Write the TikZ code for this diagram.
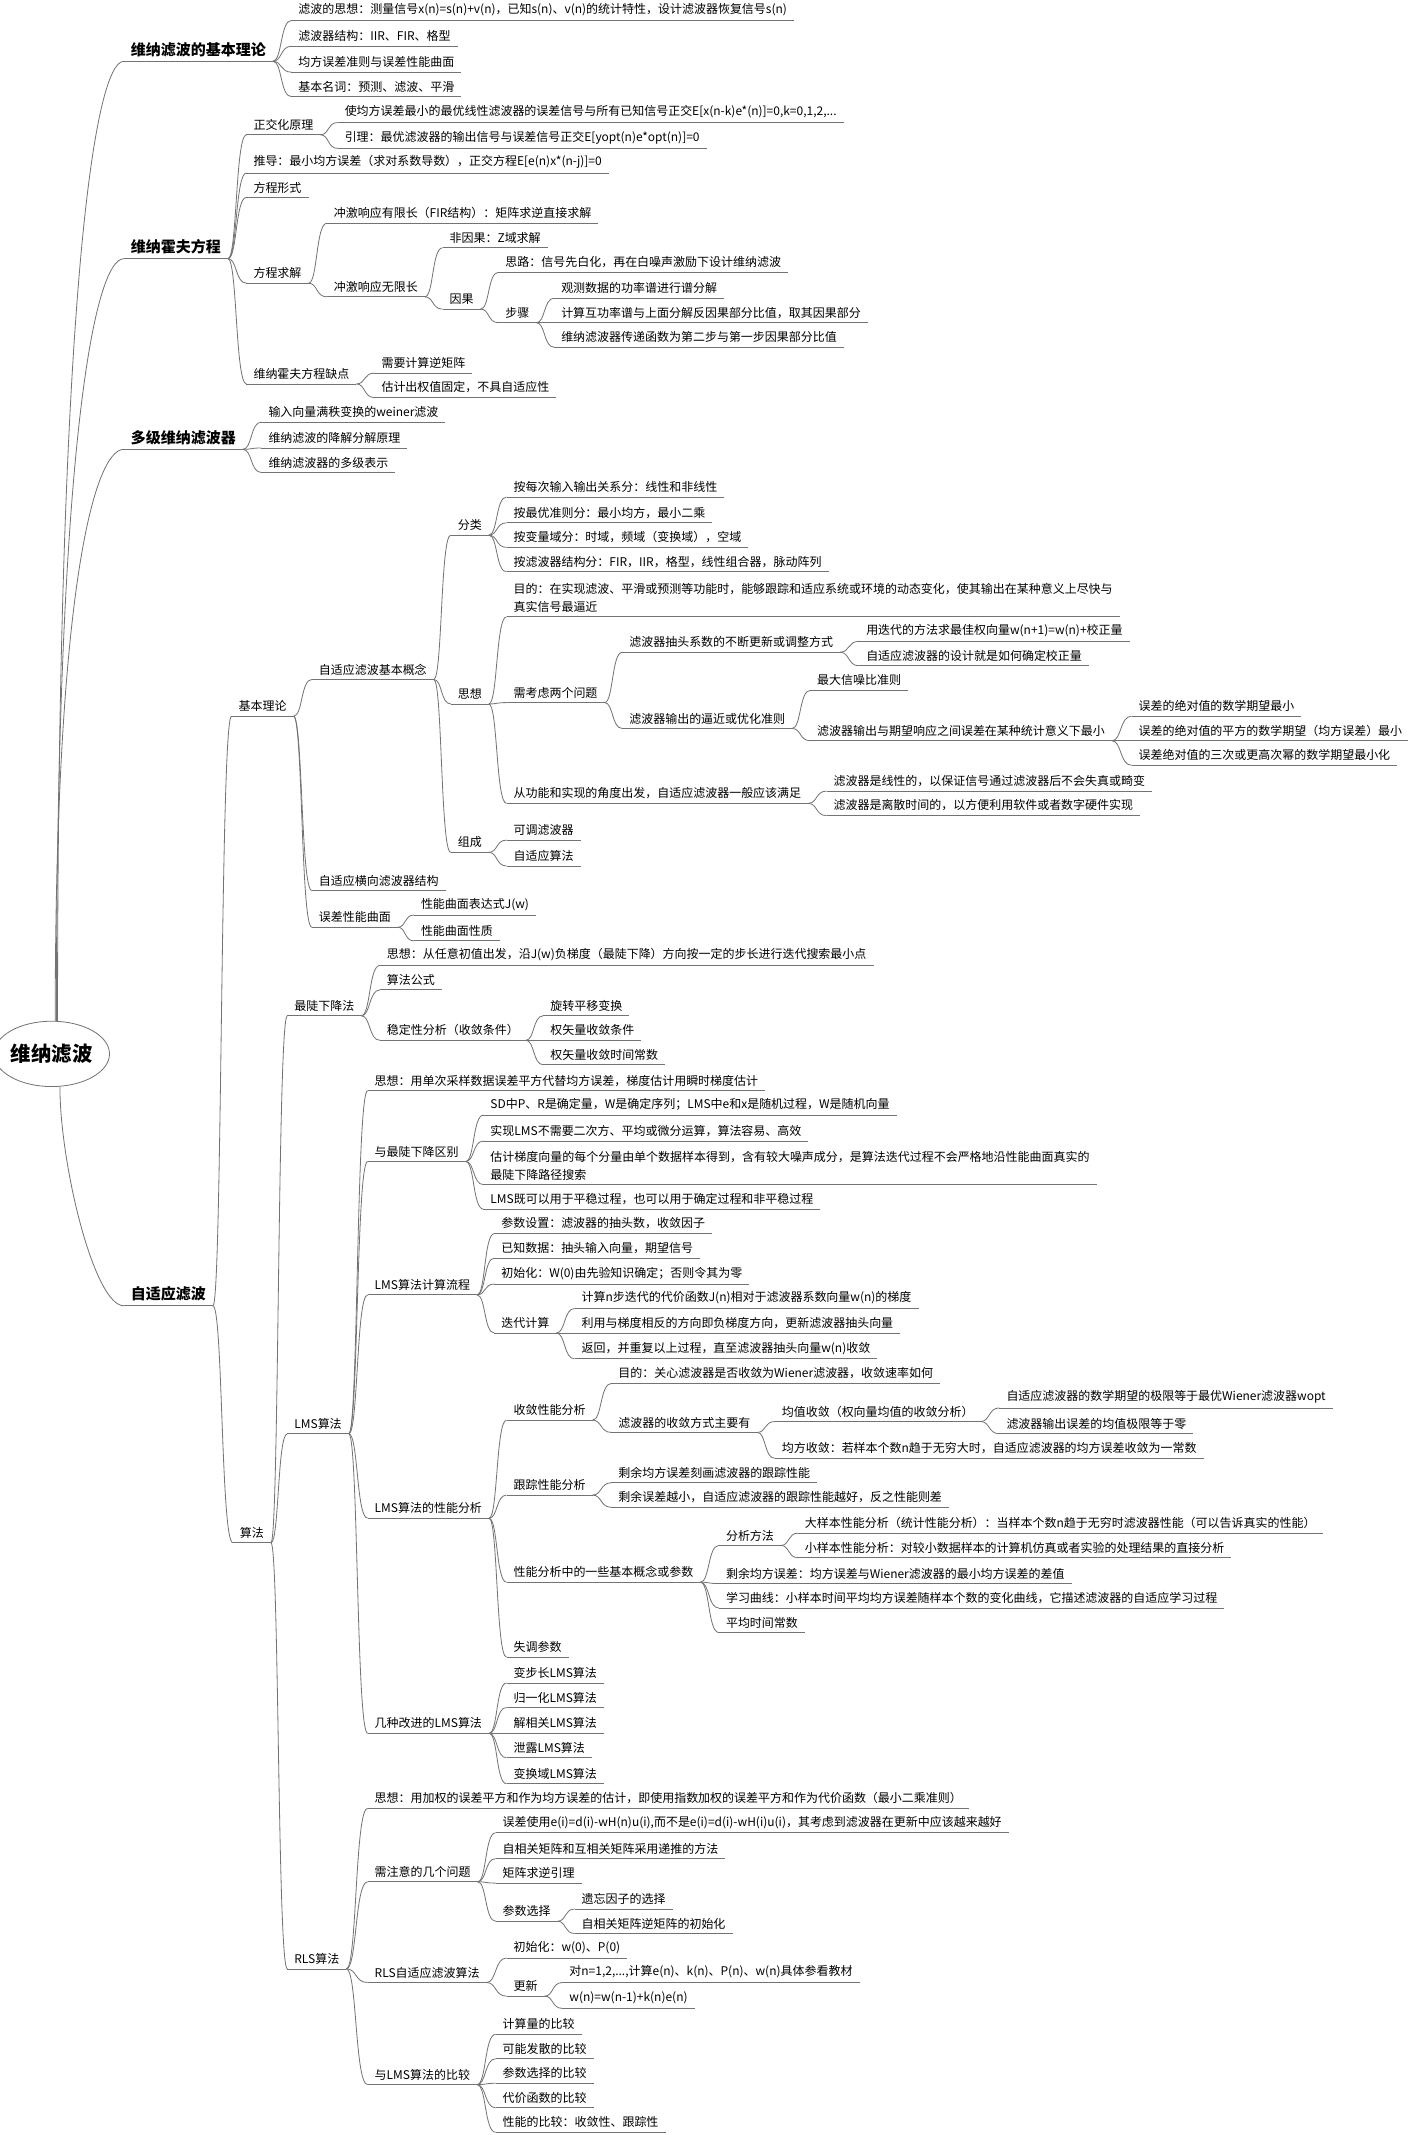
\documentclass[tikz,border=0pt]{standalone}
\usepackage{fontspec}
\setmainfont{Noto Sans CJK SC}
\usetikzlibrary{calc}
\usetikzlibrary{shapes.geometric}
\definecolor{mline}{rgb}{0.45, 0.45, 0.45}
\tikzset{txt/.style = {anchor=south west, align=left, inner xsep=5pt, inner ysep=3pt,
                       font=\fontsize{8.8}{13}\selectfont,
                       append after command={(\tikzlastnode.south west) edge [draw=mline, line width=0.6pt] (\tikzlastnode.south east)}},
         big/.style = {txt, font=\fontsize{11}{13}\selectfont\bfseries},
         rootnode/.style = {ellipse, draw=mline, line width=0.6pt, minimum width=76pt, minimum height=48pt,
                            inner sep=0pt, font=\fontsize{15}{17}\selectfont\bfseries},
         br/.style = {draw=mline, line width=0.6pt,
                      to path={.. controls ($(\tikztostart)!0.5!(\tikztostart -| \tikztotarget)$)
                               and ($(\tikztotarget)!0.6!(\tikztotarget -| \tikztostart)$) .. (\tikztotarget)}},
         rl/.style = {draw=mline, line width=0.6pt,
                      to path={.. controls ($(\tikztostart)!#1!(\tikztostart |- \tikztotarget)$)
                               and ($(\tikztotarget)+(-22,0)$) .. (\tikztotarget)}}}

\begin{document}
\begin{tikzpicture}[x=1pt, y=-1pt]
    \useasboundingbox (0, 0) rectangle (1034, 1568);

    \node [rootnode] (root) at (38, 774) {维纳滤波};

    \node [big] (wb) at (91, 45) {维纳滤波的基本理论};
    \node [big] (wh) at (91, 190) {维纳霍夫方程};
    \node [big] (dj) at (91, 330) {多级维纳滤波器};
    \node [big] (zs) at (91, 959) {自适应滤波};

    \node [txt] (wb1) at (214, 15) {滤波的思想：测量信号x(n)=s(n)+v(n)，已知s(n)、v(n)的统计特性，设计滤波器恢复信号s(n)};
    \node [txt] (wb2) at (214, 34) {滤波器结构：IIR、FIR、格型};
    \node [txt] (wb3) at (214, 53) {均方误差准则与误差性能曲面};
    \node [txt] (wb4) at (214, 71) {基本名词：预测、滤波、平滑};

    \node [txt] (zj) at (181, 99) {正交化原理};
    \node [txt] (td) at (181, 127) {推导：最小均方误差（求对系数导数），正交方程E[e(n)x*(n-j)]=0};
    \node [txt] (xs) at (181, 145) {方程形式};
    \node [txt] (qj) at (181, 208) {方程求解};
    \node [txt] (qd) at (181, 282) {维纳霍夫方程缺点};
    \node [txt] (zj1) at (248, 90) {使均方误差最小的最优线性滤波器的误差信号与所有已知信号正交E[x(n-k)e*(n)]=0,k=0,1,2,...};
    \node [txt] (zj2) at (248, 109) {引理：最优滤波器的输出信号与误差信号正交E[yopt(n)e*opt(n)]=0};
    \node [txt] (yx) at (240, 164) {冲激响应有限长（FIR结构）：矩阵求逆直接求解};
    \node [txt] (wx) at (240, 218) {冲激响应无限长};
    \node [txt] (fy) at (325, 182) {非因果：Z域求解};
    \node [txt] (yg) at (325, 227) {因果};
    \node [txt] (sil) at (366, 200) {思路：信号先白化，再在白噪声激励下设计维纳滤波};
    \node [txt] (bz) at (366, 237) {步骤};
    \node [txt] (bz1) at (407, 219) {观测数据的功率谱进行谱分解};
    \node [txt] (bz2) at (407, 237) {计算互功率谱与上面分解反因果部分比值，取其因果部分};
    \node [txt] (bz3) at (407, 255) {维纳滤波器传递函数为第二步与第一步因果部分比值};
    \node [txt] (qd1) at (275, 274) {需要计算逆矩阵};
    \node [txt] (qd2) at (275, 292) {估计出权值固定，不具自适应性};

    \node [txt] (dj1) at (192, 310) {输入向量满秩变换的weiner滤波};
    \node [txt] (dj2) at (192, 329) {维纳滤波的降解分解原理};
    \node [txt] (dj3) at (192, 347) {维纳滤波器的多级表示};

    \node [txt] (jl) at (170, 526) {基本理论};
    \node [txt] (sf) at (171, 1133) {算法};
    \node [txt] (gn) at (229, 499) {自适应滤波基本概念};
    \node [txt] (hx) at (229, 654) {自适应横向滤波器结构};
    \node [txt] (qm) at (229, 681) {误差性能曲面};
    \node [txt] (fl) at (331, 393) {分类};
    \node [txt] (sx) at (331, 517) {思想};
    \node [txt] (zc) at (331, 626) {组成};
    \node [txt] (fl1) at (372, 365) {按每次输入输出关系分：线性和非线性};
    \node [txt] (fl2) at (372, 384) {按最优准则分：最小均方，最小二乘};
    \node [txt] (fl3) at (372, 402) {按变量域分：时域，频域（变换域），空域};
    \node [txt] (fl4) at (372, 420) {按滤波器结构分：FIR，IIR，格型，线性组合器，脉动阵列};
    \node [txt] (md) at (372, 453) {目的：在实现滤波、平滑或预测等功能时，能够跟踪和适应系统或环境的动态变化，使其输出在某种意义上尽快与\\真实信号最逼近};
    \node [txt] (wt) at (372, 516) {需考虑两个问题};
    \node [txt] (gc) at (372, 590) {从功能和实现的角度出发，自适应滤波器一般应该满足};
    \node [txt] (ct) at (457, 479) {滤波器抽头系数的不断更新或调整方式};
    \node [txt] (bj) at (457, 535) {滤波器输出的逼近或优化准则};
    \node [txt] (ct1) at (631, 471) {用迭代的方法求最佳权向量w(n+1)=w(n)+校正量};
    \node [txt] (ct2) at (631, 489) {自适应滤波器的设计就是如何确定校正量};
    \node [txt] (bj1) at (595, 507) {最大信噪比准则};
    \node [txt] (tj) at (595, 544) {滤波器输出与期望响应之间误差在某种统计意义下最小};
    \node [txt] (tj1) at (831, 526) {误差的绝对值的数学期望最小};
    \node [txt] (tj2) at (831, 544) {误差的绝对值的平方的数学期望（均方误差）最小};
    \node [txt] (tj3) at (831, 562) {误差绝对值的三次或更高次幂的数学期望最小化};
    \node [txt] (gc1) at (607, 581) {滤波器是线性的，以保证信号通过滤波器后不会失真或畸变};
    \node [txt] (gc2) at (607, 599) {滤波器是离散时间的，以方便利用软件或者数字硬件实现};
    \node [txt] (zc1) at (372, 617) {可调滤波器};
    \node [txt] (zc2) at (372, 636) {自适应算法};
    \node [txt] (qm1) at (304, 672) {性能曲面表达式J(w)};
    \node [txt] (qm2) at (304, 691) {性能曲面性质};

    \node [txt] (zd) at (211, 746) {最陡下降法};
    \node [txt] (lms) at (211, 1053) {LMS算法};
    \node [txt] (rls) at (211, 1446) {RLS算法};
    \node [txt] (zd1) at (279, 709) {思想：从任意初值出发，沿J(w)负梯度（最陡下降）方向按一定的步长进行迭代搜索最小点};
    \node [txt] (zd2) at (279, 727) {算法公式};
    \node [txt] (wd) at (279, 764) {稳定性分析（收敛条件）};
    \node [txt] (wd1) at (399, 746) {旋转平移变换};
    \node [txt] (wd2) at (399, 764) {权矢量收敛条件};
    \node [txt] (wd3) at (399, 782) {权矢量收敛时间常数};

    \node [txt] (ls) at (270, 801) {思想：用单次采样数据误差平方代替均方误差，梯度估计用瞬时梯度估计};
    \node [txt] (qb) at (270, 853) {与最陡下降区别};
    \node [txt] (lc) at (270, 951) {LMS算法计算流程};
    \node [txt] (xn) at (270, 1115) {LMS算法的性能分析};
    \node [txt] (gj) at (270, 1273) {几种改进的LMS算法};
    \node [txt] (qb1) at (355, 819) {SD中P、R是确定量，W是确定序列；LMS中e和x是随机过程，W是随机向量};
    \node [txt] (qb2) at (355, 838) {实现LMS不需要二次方、平均或微分运算，算法容易、高效};
    \node [txt] (qb3) at (355, 870) {估计梯度向量的每个分量由单个数据样本得到，含有较大噪声成分，是算法迭代过程不会严格地沿性能曲面真实的\\最陡下降路径搜索};
    \node [txt] (qb4) at (355, 888) {LMS既可以用于平稳过程，也可以用于确定过程和非平稳过程};
    \node [txt] (lc1) at (363, 906) {参数设置：滤波器的抽头数，收敛因子};
    \node [txt] (lc2) at (363, 924) {已知数据：抽头输入向量，期望信号};
    \node [txt] (lc3) at (363, 943) {初始化：W(0)由先验知识确定；否则令其为零};
    \node [txt] (dd) at (363, 979) {迭代计算};
    \node [txt] (dd1) at (422, 961) {计算n步迭代的代价函数J(n)相对于滤波器系数向量w(n)的梯度};
    \node [txt] (dd2) at (422, 979) {利用与梯度相反的方向即负梯度方向，更新滤波器抽头向量};
    \node [txt] (dd3) at (422, 998) {返回，并重复以上过程，直至滤波器抽头向量w(n)收敛};
    \node [txt] (ss) at (372, 1043) {收敛性能分析};
    \node [txt] (gz) at (372, 1098) {跟踪性能分析};
    \node [txt] (jc) at (372, 1162) {性能分析中的一些基本概念或参数};
    \node [txt] (tc) at (372, 1217) {失调参数};
    \node [txt] (ss1) at (449, 1016) {目的：关心滤波器是否收敛为Wiener滤波器，收敛速率如何};
    \node [txt] (fs) at (449, 1052) {滤波器的收敛方式主要有};
    \node [txt] (jz) at (569, 1044) {均值收敛（权向量均值的收敛分析）};
    \node [txt] (jf) at (569, 1071) {均方收敛：若样本个数n趋于无穷大时，自适应滤波器的均方误差收敛为一常数};
    \node [txt] (jz1) at (734, 1034) {自适应滤波器的数学期望的极限等于最优Wiener滤波器wopt};
    \node [txt] (jz2) at (734, 1053) {滤波器输出误差的均值极限等于零};
    \node [txt] (gz1) at (449, 1089) {剩余均方误差刻画滤波器的跟踪性能};
    \node [txt] (gz2) at (449, 1107) {剩余误差越小，自适应滤波器的跟踪性能越好，反之性能则差};
    \node [txt] (ff) at (528, 1135) {分析方法};
    \node [txt] (jc2) at (528, 1163) {剩余均方误差：均方误差与Wiener滤波器的最小均方误差的差值};
    \node [txt] (jc3) at (528, 1181) {学习曲线：小样本时间平均均方误差随样本个数的变化曲线，它描述滤波器的自适应学习过程};
    \node [txt] (jc4) at (528, 1199) {平均时间常数};
    \node [txt] (ff1) at (586, 1126) {大样本性能分析（统计性能分析）：当样本个数n趋于无穷时滤波器性能（可以告诉真实的性能）};
    \node [txt] (ff2) at (586, 1144) {小样本性能分析：对较小数据样本的计算机仿真或者实验的处理结果的直接分析};
    \node [txt] (gj1) at (372, 1236) {变步长LMS算法};
    \node [txt] (gj2) at (372, 1254) {归一化LMS算法};
    \node [txt] (gj3) at (372, 1273) {解相关LMS算法};
    \node [txt] (gj4) at (372, 1291) {泄露LMS算法};
    \node [txt] (gj5) at (372, 1310) {变换域LMS算法};

    \node [txt] (rs) at (270, 1328) {思想：用加权的误差平方和作为均方误差的估计，即使用指数加权的误差平方和作为代价函数（最小二乘准则）};
    \node [txt] (zy) at (270, 1382) {需注意的几个问题};
    \node [txt] (rz) at (270, 1456) {RLS自适应滤波算法};
    \node [txt] (bl) at (270, 1531) {与LMS算法的比较};
    \node [txt] (zy1) at (364, 1346) {误差使用e(i)=d(i)-wH(n)u(i),而不是e(i)=d(i)-wH(i)u(i)，其考虑到滤波器在更新中应该越来越好};
    \node [txt] (zy2) at (364, 1365) {自相关矩阵和互相关矩阵采用递推的方法};
    \node [txt] (zy3) at (364, 1383) {矩阵求逆引理};
    \node [txt] (cx) at (364, 1411) {参数选择};
    \node [txt] (cx1) at (422, 1402) {遗忘因子的选择};
    \node [txt] (cx2) at (422, 1420) {自相关矩阵逆矩阵的初始化};
    \node [txt] (rz1) at (372, 1438) {初始化：w(0)、P(0)};
    \node [txt] (gx) at (372, 1466) {更新};
    \node [txt] (gx1) at (413, 1456) {对n=1,2,...,计算e(n)、k(n)、P(n)、w(n)具体参看教材};
    \node [txt] (gx2) at (413, 1475) {w(n)=w(n-1)+k(n)e(n)};
    \node [txt] (bl1) at (364, 1494) {计算量的比较};
    \node [txt] (bl2) at (364, 1512) {可能发散的比较};
    \node [txt] (bl3) at (364, 1530) {参数选择的比较};
    \node [txt] (bl4) at (364, 1548) {代价函数的比较};
    \node [txt] (bl5) at (364, 1566) {性能的比较：收敛性、跟踪性};

    \path (root.80) edge [rl=0.75] (wb.south west)
          (root.82) edge [rl=0.75] (wh.south west)
          (root.84) edge [rl=0.75] (dj.south west)
          (root.-76) edge [rl=0.35] (zs.south west);

    \path (wb.south east) edge [br] (wb1.south west) edge [br] (wb2.south west)
                          edge [br] (wb3.south west) edge [br] (wb4.south west);
    \path (wh.south east) edge [br] (zj.south west) edge [br] (td.south west) edge [br] (xs.south west)
                          edge [br] (qj.south west) edge [br] (qd.south west);
    \path (zj.south east) edge [br] (zj1.south west) edge [br] (zj2.south west);
    \path (qj.south east) edge [br] (yx.south west) edge [br] (wx.south west);
    \path (wx.south east) edge [br] (fy.south west) edge [br] (yg.south west);
    \path (yg.south east) edge [br] (sil.south west) edge [br] (bz.south west);
    \path (bz.south east) edge [br] (bz1.south west) edge [br] (bz2.south west) edge [br] (bz3.south west);
    \path (qd.south east) edge [br] (qd1.south west) edge [br] (qd2.south west);
    \path (dj.south east) edge [br] (dj1.south west) edge [br] (dj2.south west) edge [br] (dj3.south west);

    \path (zs.south east) edge [br] (jl.south west) edge [br] (sf.south west);
    \path (jl.south east) edge [br] (gn.south west) edge [br] (hx.south west) edge [br] (qm.south west);
    \path (gn.south east) edge [br] (fl.south west) edge [br] (sx.south west) edge [br] (zc.south west);
    \path (fl.south east) edge [br] (fl1.south west) edge [br] (fl2.south west)
                          edge [br] (fl3.south west) edge [br] (fl4.south west);
    \path (sx.south east) edge [br] (md.south west) edge [br] (wt.south west) edge [br] (gc.south west);
    \path (wt.south east) edge [br] (ct.south west) edge [br] (bj.south west);
    \path (ct.south east) edge [br] (ct1.south west) edge [br] (ct2.south west);
    \path (bj.south east) edge [br] (bj1.south west) edge [br] (tj.south west);
    \path (tj.south east) edge [br] (tj1.south west) edge [br] (tj2.south west) edge [br] (tj3.south west);
    \path (gc.south east) edge [br] (gc1.south west) edge [br] (gc2.south west);
    \path (zc.south east) edge [br] (zc1.south west) edge [br] (zc2.south west);
    \path (qm.south east) edge [br] (qm1.south west) edge [br] (qm2.south west);

    \path (sf.south east) edge [br] (zd.south west) edge [br] (lms.south west) edge [br] (rls.south west);
    \path (zd.south east) edge [br] (zd1.south west) edge [br] (zd2.south west) edge [br] (wd.south west);
    \path (wd.south east) edge [br] (wd1.south west) edge [br] (wd2.south west) edge [br] (wd3.south west);
    \path (lms.south east) edge [br] (ls.south west) edge [br] (qb.south west) edge [br] (lc.south west)
                           edge [br] (xn.south west) edge [br] (gj.south west);
    \path (qb.south east) edge [br] (qb1.south west) edge [br] (qb2.south west)
                          edge [br] (qb3.south west) edge [br] (qb4.south west);
    \path (lc.south east) edge [br] (lc1.south west) edge [br] (lc2.south west)
                          edge [br] (lc3.south west) edge [br] (dd.south west);
    \path (dd.south east) edge [br] (dd1.south west) edge [br] (dd2.south west) edge [br] (dd3.south west);
    \path (xn.south east) edge [br] (ss.south west) edge [br] (gz.south west)
                          edge [br] (jc.south west) edge [br] (tc.south west);
    \path (ss.south east) edge [br] (ss1.south west) edge [br] (fs.south west);
    \path (fs.south east) edge [br] (jz.south west) edge [br] (jf.south west);
    \path (jz.south east) edge [br] (jz1.south west) edge [br] (jz2.south west);
    \path (gz.south east) edge [br] (gz1.south west) edge [br] (gz2.south west);
    \path (jc.south east) edge [br] (ff.south west) edge [br] (jc2.south west)
                          edge [br] (jc3.south west) edge [br] (jc4.south west);
    \path (ff.south east) edge [br] (ff1.south west) edge [br] (ff2.south west);
    \path (gj.south east) edge [br] (gj1.south west) edge [br] (gj2.south west) edge [br] (gj3.south west)
                          edge [br] (gj4.south west) edge [br] (gj5.south west);
    \path (rls.south east) edge [br] (rs.south west) edge [br] (zy.south west)
                           edge [br] (rz.south west) edge [br] (bl.south west);
    \path (zy.south east) edge [br] (zy1.south west) edge [br] (zy2.south west)
                          edge [br] (zy3.south west) edge [br] (cx.south west);
    \path (cx.south east) edge [br] (cx1.south west) edge [br] (cx2.south west);
    \path (rz.south east) edge [br] (rz1.south west) edge [br] (gx.south west);
    \path (gx.south east) edge [br] (gx1.south west) edge [br] (gx2.south west);
    \path (bl.south east) edge [br] (bl1.south west) edge [br] (bl2.south west) edge [br] (bl3.south west)
                          edge [br] (bl4.south west) edge [br] (bl5.south west);
\end{tikzpicture}
\end{document}
